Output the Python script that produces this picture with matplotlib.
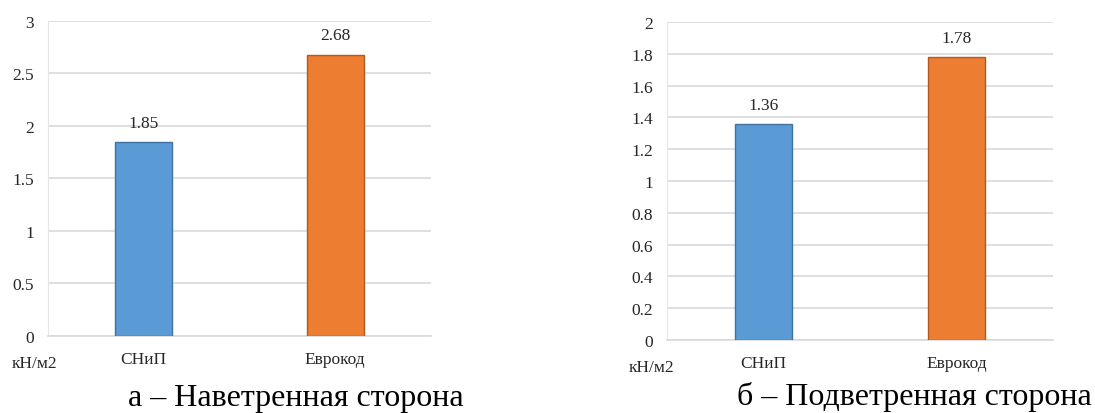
import matplotlib
matplotlib.use("Agg")
import matplotlib.pyplot as plt

plt.rcParams['font.family'] = ['Liberation Serif', 'DejaVu Serif']

categories = ['СНиП', 'Еврокод']
windward = [1.85, 2.68]
leeward = [1.36, 1.78]
windward_ticks = [0, 0.5, 1, 1.5, 2, 2.5, 3]
leeward_ticks = [0, 0.2, 0.4, 0.6, 0.8, 1, 1.2, 1.4, 1.6, 1.8, 2]
unit = 'кН/м2'
captions = ['а – Наветренная сторона', 'б – Подветренная сторона']

colors = ['#5b9bd5', '#ed7d31']
edges = ['#41719c', '#ae5a21']
txt = '#262626'

fig = plt.figure(figsize=(10.95, 4.14), dpi=100)
ax1 = fig.add_axes([0.0438, 0.186, 0.3498, 0.761])
ax2 = fig.add_axes([0.6091, 0.1763, 0.3525, 0.768])


def draw(ax, values, ticks, labels_fmt):
    x = range(len(categories))
    bars = ax.bar(x, values, width=0.30, color=colors, edgecolor=edges, linewidth=1, zorder=3)
    for b, v in zip(bars, values):
        ax.annotate(labels_fmt.format(v), (b.get_x() + b.get_width() / 2, v),
                    xytext=(0, 8), textcoords='offset points', ha='center', va='bottom',
                    fontsize=12.5, color=txt)
    ax.set_xlim(-0.5, len(categories) - 0.5)
    ax.set_ylim(ticks[0], ticks[-1])
    ax.set_yticks(ticks)
    ax.set_yticklabels([('%g' % t) for t in ticks])
    ax.set_xticks(list(x))
    ax.set_xticklabels(categories)
    ax.grid(axis='y', color='#d9d9d9', linewidth=1.2, zorder=0)
    for s in ['top', 'right']:
        ax.spines[s].set_visible(False)
    ax.spines['left'].set_color('#e6e6e6')
    ax.spines['bottom'].set_color('#d9d9d9')
    ax.spines['bottom'].set_linewidth(1.2)
    ax.tick_params(axis='both', length=0, labelsize=12.5, colors=txt)
    ax.tick_params(axis='x', pad=11)
    ax.tick_params(axis='y', pad=10)


draw(ax1, windward, windward_ticks, '{:.2f}')
draw(ax2, leeward, leeward_ticks, '{:.2f}')

fig.text(12 / 1095, 1 - 364 / 414, unit, fontsize=12.5, color=txt, va='center', ha='left')
fig.text(629 / 1095, 1 - 368 / 414, unit, fontsize=12.5, color=txt, va='center', ha='left')

fig.text(296 / 1095, 1 - 406 / 414, captions[0], fontsize=23, color='black', va='baseline', ha='center')
fig.text(914 / 1095, 1 - 405 / 414, captions[1], fontsize=23, color='black', va='baseline', ha='center')

fig.savefig('out.png', dpi=100, facecolor='white')
